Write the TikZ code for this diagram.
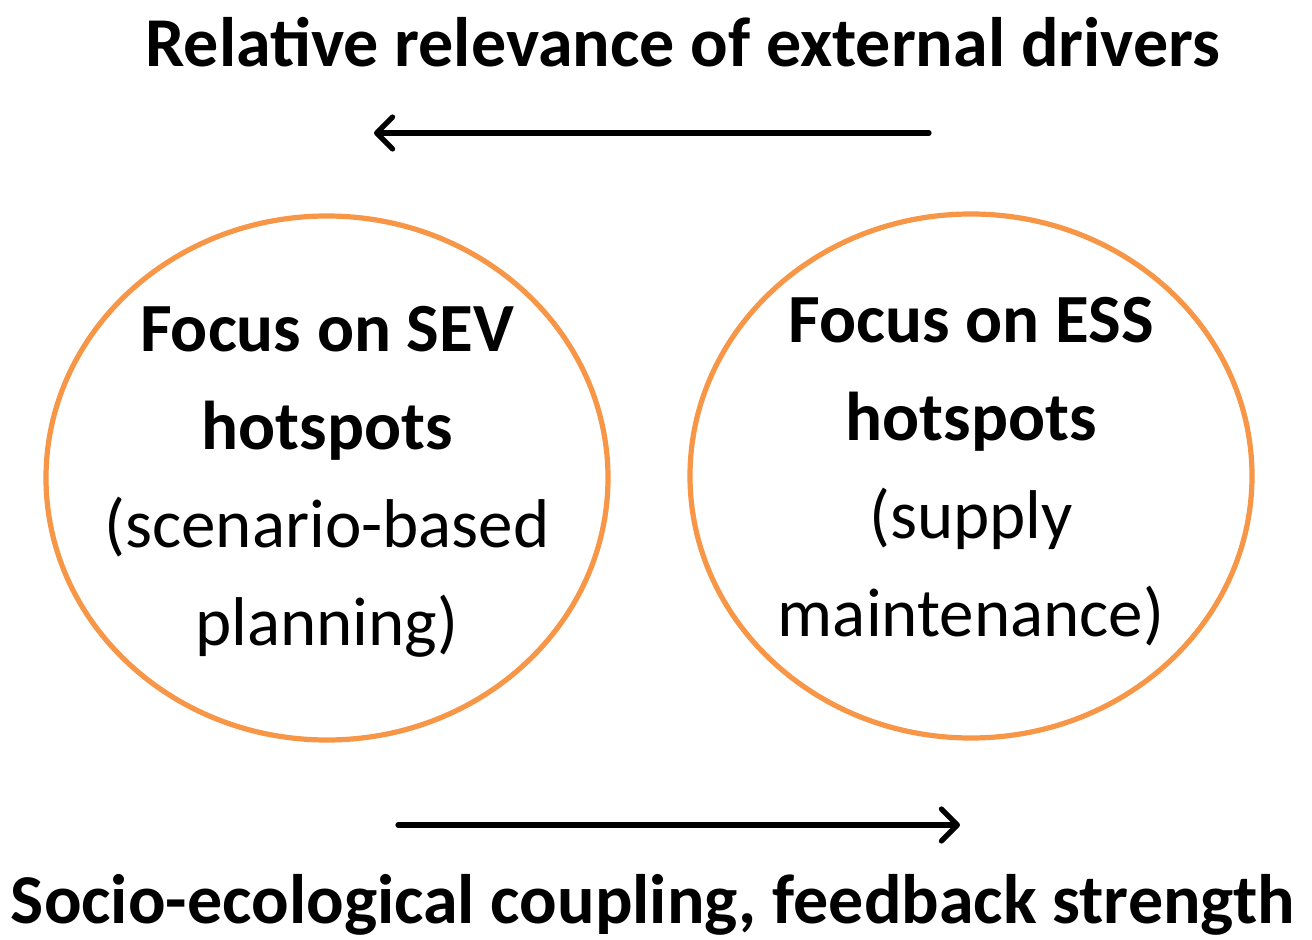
\documentclass[tikz,border=0pt]{standalone}
\usepackage{fontspec}
\setmainfont{Carlito}
\usetikzlibrary{shapes.geometric,arrows.meta}
\definecolor{hotorange}{RGB}{247,150,70}
\tikzset{
  hotspot/.style={ellipse, draw=hotorange, line width=2.6pt, minimum width=281pt, minimum height=262pt, inner sep=0pt},
  hottext/.style={align=center, inner sep=0pt, font=\fontsize{34.5}{49}\selectfont},
  driver/.style={line width=2.6pt, line cap=round, -{Straight Barb[length=8pt,width=16pt,line cap=round,line join=round]}},
  headline/.style={font=\fontsize{35}{40}\selectfont\bfseries, inner sep=0pt}
}
\begin{document}
\begin{tikzpicture}[x=0.5pt, y=-0.5pt]
\useasboundingbox (0,0) rectangle (1312,940);
% headings
\node[headline] (top) at (683,42) {Relative relevance of external drivers};
\node[headline] (bottom) at (653,905) {Socio-ecological coupling, feedback strength};
% the two foci
\node[hotspot] (sev) at (327,478) {};
\node[hotspot] (ess) at (971,476) {};
\node[hottext] (sevtext) at (327,482) {\textbf{Focus on SEV}\\\textbf{hotspots}\\(scenario-based\\planning)};
\node[hottext] (esstext) at (971,472) {\textbf{Focus on ESS}\\\textbf{hotspots}\\(supply\\maintenance)};
% arrows
\coordinate (ta) at (929,133);
\coordinate (tb) at (374,133);
\coordinate (ba) at (398,825);
\coordinate (bb) at (960,825);
\draw[driver] (ta) -- (tb);
\draw[driver] (ba) -- (bb);
\end{tikzpicture}
\end{document}
